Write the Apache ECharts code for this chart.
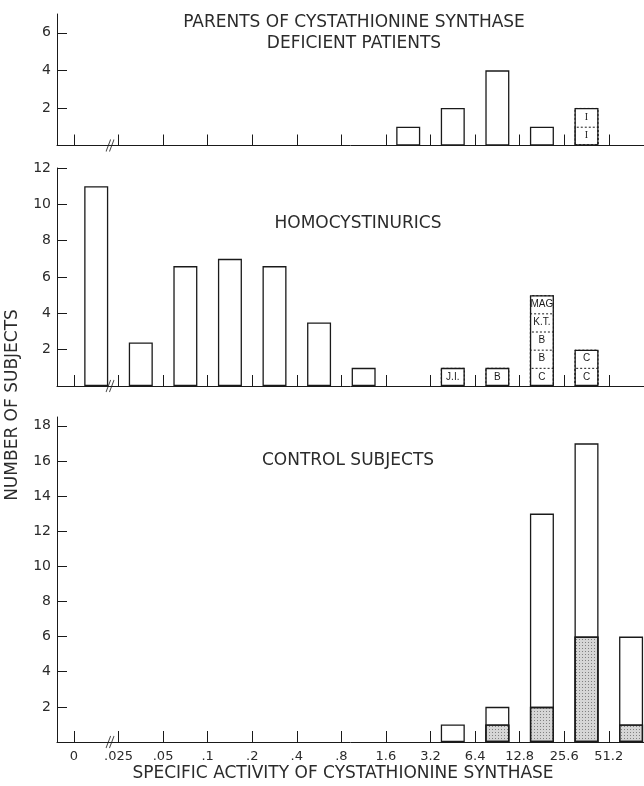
<!DOCTYPE html>
<html><head><meta charset="utf-8">
<script src="https://cdn.jsdelivr.net/npm/echarts@6/dist/echarts.min.js"></script>
<style>html,body{margin:0;padding:0;background:#fff}#c{width:644px;height:786px}</style>
</head><body><div id="c"></div>
<script>
// Tick labels at bin boundaries (specific activity)
const tickLabels = ['0','.025','.05','.1','.2','.4','.8','1.6','3.2','6.4','12.8','25.6','51.2'];
// Counts per bin (bin i lies between tickLabels[i] and tickLabels[i+1])
const parents          = [0, 0, 0, 0, 0, 0, 0, 1, 2, 4, 1, 2, 0];
const homocystinurics  = [11, 2.4, 6.6, 7, 6.6, 3.5, 1, 0, 1, 1, 5, 2, 0];
const controlsTotal    = [0, 0, 0, 0, 0, 0, 0, 0, 1, 2, 13, 17, 6];
const controlsShaded   = [0, 0, 0, 0, 0, 0, 0, 0, 0, 1, 2, 6, 1];
// Individual labels inside bars (bottom to top), one subject each
const parentSegLabels = [[],[],[],[],[],[],[],[],[],[],[],['I','I'],[]];
const homoSegLabels   = [[],[],[],[],[],[],[],[],['J.I.'],['B'],['C','B','B','K.T.','MAG'],['C','C'],[]];
const breakPos = 0.81;
const panelTitles = ['PARENTS OF CYSTATHIONINE SYNTHASE\nDEFICIENT PATIENTS', 'HOMOCYSTINURICS', 'CONTROL SUBJECTS'];

const ink = '#1a1a1a';
const textInk = '#2b2b2b';
const font = 'DejaVu Sans';
const idx = tickLabels.map((_, i) => i);

function barData(arr) {
  return arr.map((v, i) => [i + 0.5, v ? v : '-']);
}
// Each level k drawn as an outline bar reaching k+1 subjects; its dashed top edge is the divider
function segSeries(labels, gi) {
  const levels = Math.max(...labels.map(l => l.length));
  const out = [];
  for (let k = levels - 1; k >= 0; k--) {
    out.push({
      type: 'bar', xAxisIndex: gi, yAxisIndex: gi,
      barWidth: 24, barGap: '-100%',
      data: labels.map((l, i) => [i + 0.5, l[k] ? k + 1 : '-']),
      itemStyle: { color: 'rgba(0,0,0,0)', borderColor: ink, borderWidth: 1, borderType: [2, 2] },
      label: { show: true, position: 'insideTop', distance: 4, color: ink,
        fontFamily: gi === 0 ? 'Liberation Serif' : 'Liberation Sans',
        fontSize: 10, formatter: p => labels[p.dataIndex][k] || '' },
      z: 3
    });
  }
  return out;
}
function breakSeries(gi) {
  return { type: 'scatter', xAxisIndex: gi, yAxisIndex: gi, data: [[breakPos, 0]], clip: false,
    symbol: 'path://M0,12L4,0M3,12L7,0', symbolSize: [8, 12],
    itemStyle: { color: 'rgba(0,0,0,0)', borderColor: ink, borderWidth: 1.2 }, z: 5, silent: true };
}
const totalStyle = { color: '#fff', borderColor: ink, borderWidth: 1.3 };

const grids = [
  { left: 57, right: 0, top: 14, height: 131.5 },
  { left: 57, right: 0, top: 168, height: 218 },
  { left: 57, right: 0, top: 417, height: 325 }
];
const yMax = [7, 12, 18.5];
const yVals = [[2,4,6],[2,4,6,8,10,12],[2,4,6,8,10,12,14,16,18]];

const xAxes = grids.map((g, gi) => ({
  type: 'value', gridIndex: gi, min: -0.38, max: 12.79,
  axisLine: { show: true, onZero: false, lineStyle: { color: ink, width: 1 } },
  axisTick: { show: true, inside: true, length: 11, customValues: idx, lineStyle: { color: ink, width: 1 } },
  axisLabel: { show: gi === 2, customValues: idx, formatter: v => tickLabels[Math.round(v)] || '',
    color: textInk, fontFamily: font, fontSize: 13, margin: 8 },
  splitLine: { show: false }
}));
const yAxes = grids.map((g, gi) => ({
  type: 'value', gridIndex: gi, min: 0, max: yMax[gi],
  axisLine: { show: true, onZero: false, lineStyle: { color: ink, width: 1 } },
  axisTick: { show: true, inside: true, length: 10, customValues: yVals[gi], lineStyle: { color: ink, width: 1 } },
  axisLabel: { customValues: yVals[gi], color: textInk, fontFamily: font, fontSize: 14, margin: 6 },
  splitLine: { show: false }
}));

const series = [
  { type: 'bar', xAxisIndex: 0, yAxisIndex: 0, barWidth: 24, barGap: '-100%', data: barData(parents), itemStyle: totalStyle, z: 2 },
  ...segSeries(parentSegLabels, 0),
  breakSeries(0),
  { type: 'bar', xAxisIndex: 1, yAxisIndex: 1, barWidth: 24, barGap: '-100%', data: barData(homocystinurics), itemStyle: totalStyle, z: 2 },
  ...segSeries(homoSegLabels, 1),
  breakSeries(1),
  { type: 'bar', xAxisIndex: 2, yAxisIndex: 2, barWidth: 24, barGap: '-100%', data: barData(controlsTotal), itemStyle: totalStyle, z: 2 },
  { type: 'bar', xAxisIndex: 2, yAxisIndex: 2, barWidth: 24, barGap: '-100%', data: barData(controlsShaded),
    itemStyle: { color: '#d6d6d6', borderColor: ink, borderWidth: 1.3,
      decal: { symbol: 'rect', symbolSize: 1, color: 'rgba(60,60,60,0.55)', dashArrayX: [1, 2], dashArrayY: [1, 2], rotation: 0 } }, z: 3 },
  breakSeries(2)
];

const titleStyle = { fill: textInk, font: '17px "' + font + '"', textAlign: 'center', textVerticalAlign: 'top', lineHeight: 21 };
const chart = echarts.init(document.getElementById('c'), null, { renderer: 'canvas' });
chart.setOption({
  animation: false,
  backgroundColor: '#fff',
  grid: grids,
  xAxis: xAxes,
  yAxis: yAxes,
  series: series,
  graphic: [
    { type: 'text', x: 354, y: 12, style: Object.assign({}, titleStyle, { text: panelTitles[0] }) },
    { type: 'text', x: 358, y: 213, style: Object.assign({}, titleStyle, { text: panelTitles[1] }) },
    { type: 'text', x: 348, y: 450, style: Object.assign({}, titleStyle, { text: panelTitles[2] }) },
    { type: 'text', x: 13, y: 405, rotation: Math.PI / 2,
      style: { text: 'NUMBER OF SUBJECTS', fill: textInk, font: '17px "' + font + '"', textAlign: 'center', textVerticalAlign: 'middle' } },
    { type: 'text', x: 343, y: 774,
      style: { text: 'SPECIFIC ACTIVITY OF CYSTATHIONINE SYNTHASE', fill: textInk, font: '17px "' + font + '"', textAlign: 'center', textVerticalAlign: 'middle' } }
  ]
});
</script></body></html>
